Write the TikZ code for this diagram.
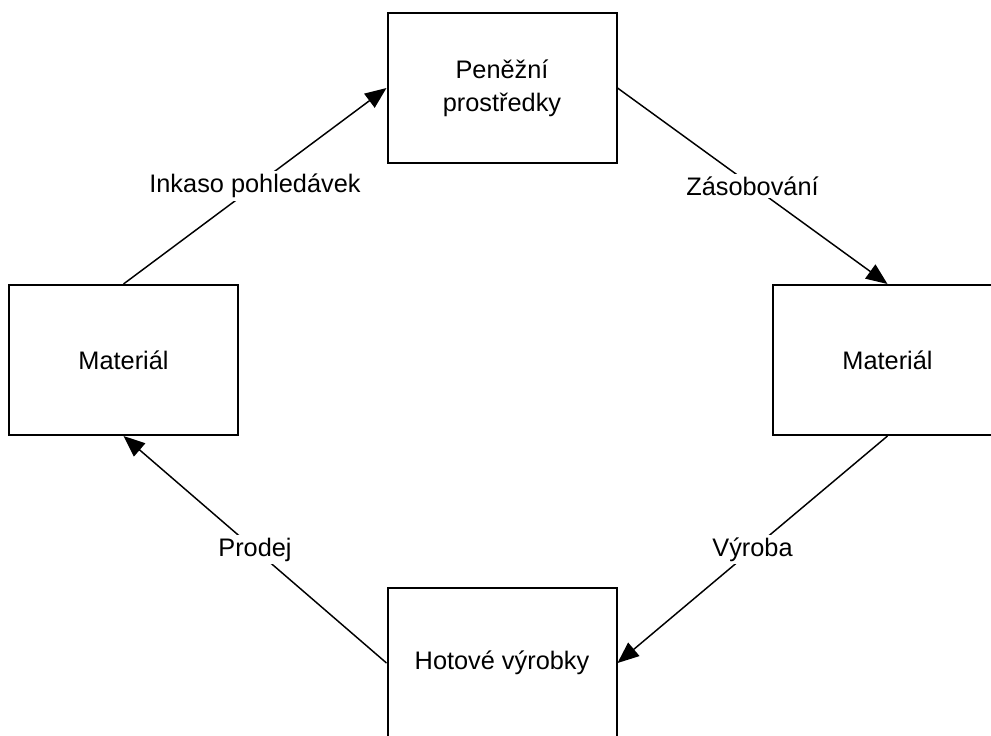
\documentclass[tikz,border=0pt]{standalone}
\usepackage{fontspec}
\setmainfont{Liberation Sans}
\usetikzlibrary{arrows.meta}
\begin{document}
\begin{tikzpicture}[x=0.75pt,y=-0.75pt,
  box/.style={draw=black, line width=1.5pt, fill=white, minimum width=171.75pt, minimum height=112.5pt, inner sep=0pt, align=center, font=\fontsize{19pt}{25pt}\selectfont},
  conn/.style={draw=black, line width=1.1pt, -{Triangle[length=16pt,width=13pt]}},
  lbl/.style={fill=white, inner sep=2pt, font=\fontsize{19pt}{23pt}\selectfont}]
\clip (0,0) rectangle (991,735);
\fill[white] (0,0) rectangle (991,735);
\node[box] (T) at (502,88) {Peněžní\\prostředky};
\node[box] (L) at (123.5,360) {Materiál};
\node[box] (R) at (887.5,360) {Materiál};
\node[box] (B) at (502,663) {Hotové výrobky};
\draw[conn] (L.north) -- node[lbl] {Inkaso pohledávek} (T.west);
\draw[conn] (T.east) -- node[lbl] {Zásobování} (R.north);
\draw[conn] (R.south) -- node[lbl] {Výroba} (B.east);
\draw[conn] (B.west) -- node[lbl] {Prodej} (L.south);
\end{tikzpicture}
\end{document}
